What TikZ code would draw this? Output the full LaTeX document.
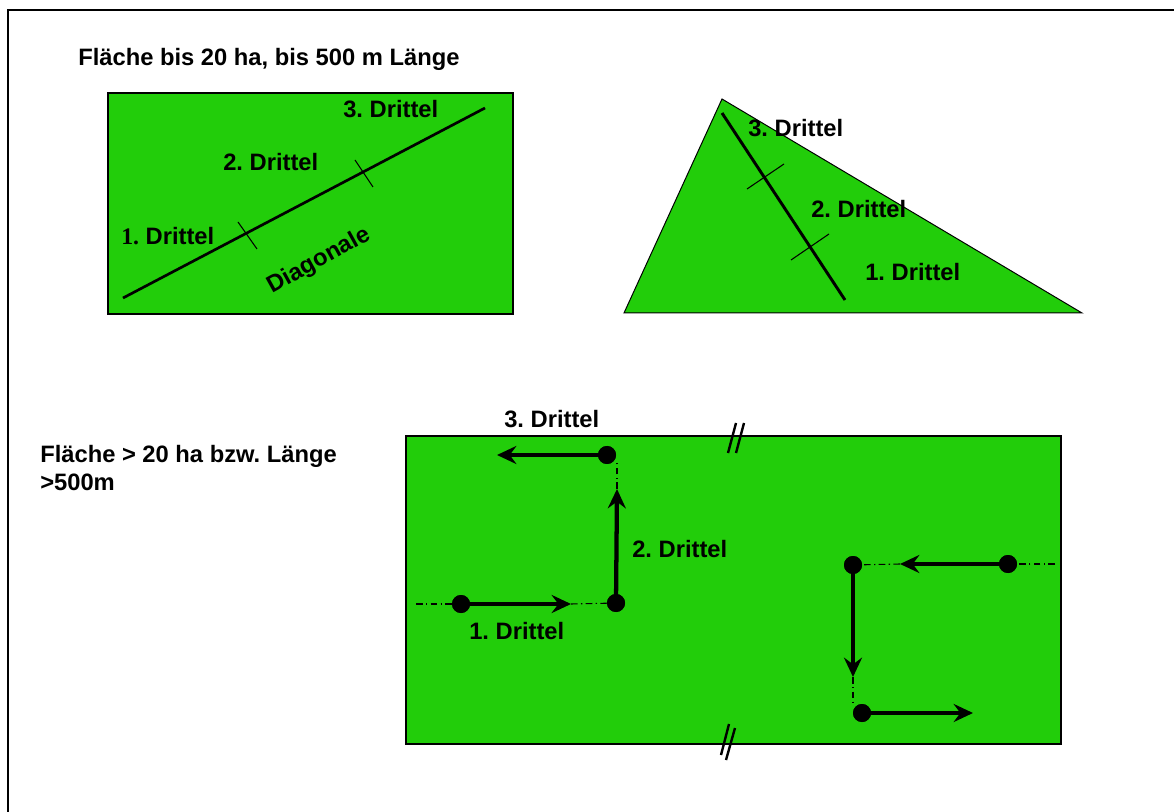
\documentclass[tikz,border=0pt]{standalone}
\usepackage{fontspec}
\setmainfont{Liberation Sans}
\newfontfamily\serifone{Liberation Serif}
\usetikzlibrary{arrows.meta}
\definecolor{grasgruen}{RGB}{34,205,10}
\frenchspacing
\begin{document}
\begin{tikzpicture}[x=0.75pt,y=-0.75pt,
 lab/.style={font=\fontsize{17.8}{21}\selectfont\bfseries, inner sep=0pt, anchor=base west},
 dot/.style={circle, fill=black, minimum size=13.5pt, inner sep=0pt},
 walk/.style={line width=3.2pt, -{Stealth[length=14.5pt,width=13.5pt,inset=5pt]}},
 dd/.style={line width=0.8pt, dash pattern=on 5pt off 2.5pt on 1pt off 2.5pt},
 tickmark/.style={line width=0.8pt},
 brk/.style={line width=1.8pt},
 field/.style={fill=grasgruen, draw=black}]
\useasboundingbox (0,0) rectangle (1174,812);
\draw[line width=1.5pt] (8,812) -- (8,10) -- (1174,10);

% --- Title 1
\node[lab] (t1) at (78,66) {Fläche bis 20 ha, bis 500 m Länge};

% --- Rectangle 1
\draw[field, line width=1.5pt] (108,93) rectangle (513,314);
\coordinate (d0) at (123,298);
\coordinate (d1) at (485,108);
\draw[line width=2pt] (d0) -- (d1);
\coordinate (k1a) at (238,222); \coordinate (k1b) at (257,249);
\coordinate (k2a) at (355,160); \coordinate (k2b) at (373,187);
\draw[tickmark] (k1a) -- (k1b);
\draw[tickmark] (k2a) -- (k2b);
\node[lab] (r1l3) at (343,118) {3. Drittel};
\node[lab] (r1l2) at (223,171) {2. Drittel};
\node[lab] (r1l1) at (121,245) {{\serifone 1.} Drittel};
\node[font=\fontsize{17.8}{21}\selectfont\bfseries, inner sep=0pt, rotate=29] (diag) at (319,261) {Diagonale};

% --- Triangle
\draw[field, line width=0.75pt] (722,99) -- (624,313) -- (1082,313) -- cycle;
\coordinate (e0) at (722,113);
\coordinate (e1) at (845,300);
\draw[line width=2.2pt] (e0) -- (e1);
\coordinate (m1a) at (747,189); \coordinate (m1b) at (784,164);
\coordinate (m2a) at (791,260); \coordinate (m2b) at (829,234);
\draw[tickmark] (m1a) -- (m1b);
\draw[tickmark] (m2a) -- (m2b);
\node[lab] (tl3) at (748,137) {3. Drittel};
\node[lab] (tl2) at (811,218) {2. Drittel};
\node[lab] (tl1) at (865,281) {1. Drittel};

% --- Title 2
\node[lab] (t2a) at (40,463) {Fläche > 20 ha bzw. Länge};
\node[lab] (t2b) at (40,490) {>500m};

% --- Rectangle 2
\draw[field, line width=1.1pt] (406,436) rectangle (1061,744);
\draw[brk] (736,423) -- (728,453);
\draw[brk] (744,423) -- (736,453);
\draw[brk] (729,724) -- (721,755);
\draw[brk] (735,728) -- (726,760);

% left walk
\coordinate (l0) at (416,604);
\node[dot] (l1) at (461,604) {};
\coordinate (l1t) at (571,604);
\node[dot] (l2) at (616,603) {};
\coordinate (l2t) at (617,489);
\coordinate (l2u) at (617,460);
\node[dot] (l3) at (607,455) {};
\coordinate (l3t) at (497,455);
\draw[dd] (l0) -- (l1.center);
\draw[walk] (l1.center) -- (l1t);
\draw[dd] (l1t) -- (l2.center);
\draw[walk] (l2.center) -- (l2t);
\draw[dd] (l2t) -- (l2u);
\draw[walk] (l3.center) -- (l3t);
\node[dot] at (l1) {};
\node[dot] at (l2) {};
\node[dot] at (l3) {};

\node[lab] (wl3) at (504,428) {3. Drittel};
\node[lab] (wl2) at (632,557) {2. Drittel};
\node[lab] (wl1) at (469,639) {1. Drittel};

% right walk
\coordinate (r0) at (1055,564);
\node[dot] (r1) at (1008,564) {};
\coordinate (r1t) at (900,564);
\node[dot] (r2) at (853,565) {};
\coordinate (r2t) at (853,677);
\coordinate (r2u) at (853,705);
\node[dot] (r3) at (862,713) {};
\coordinate (r3t) at (973,713);
\draw[dd] (r0) -- (r1.center);
\draw[walk] (r1.center) -- (r1t);
\draw[dd] (r1t) -- (r2.center);
\draw[walk] (r2.center) -- (r2t);
\draw[dd] (r2t) -- (r2u);
\draw[walk] (r3.center) -- (r3t);
\node[dot] at (r1) {};
\node[dot] at (r2) {};
\node[dot] at (r3) {};
\end{tikzpicture}
\end{document}
